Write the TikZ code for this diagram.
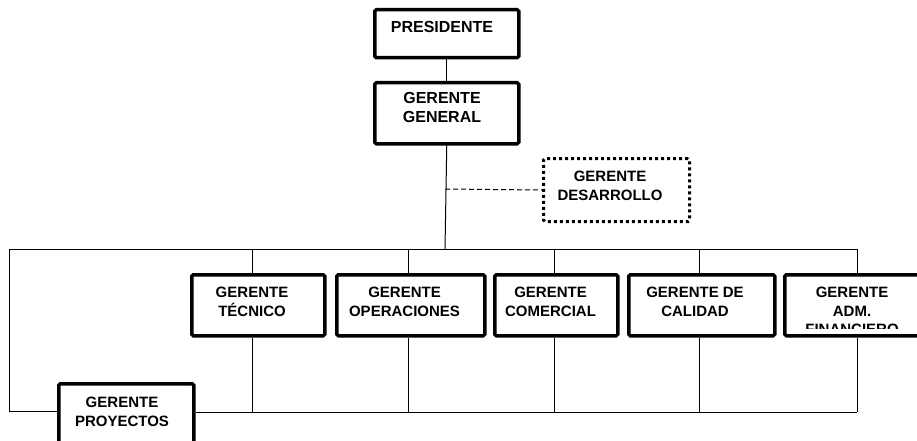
\documentclass[tikz,border=0pt]{standalone}
\usepackage{fontspec}
\setmainfont{Liberation Sans}
\begin{document}
\begin{tikzpicture}[x=1pt,y=-1pt,
  box/.style={draw, line width=3.5pt, rounded corners=1.5pt, fill=white, inner sep=0pt, anchor=north west},
  dotbox/.style={draw, line width=3pt, dash pattern=on 3pt off 3pt, rounded corners=1.5pt, fill=white, inner sep=0pt, anchor=north west},
  lbl/.style={anchor=north, inner sep=0pt, align=center, font=\bfseries\fontsize{15}{18.5}\selectfont},
  biglbl/.style={lbl, font=\bfseries\fontsize{16}{19}\selectfont},
  conn/.style={draw, line width=1pt},
  dconn/.style={draw, line width=1pt, dash pattern=on 5pt off 3pt}]
\useasboundingbox (0,0) rectangle (917,441);
\clip (0,0) rectangle (917,441);
\fill[white] (0,0) rectangle (917,441);

% bus coordinates
\coordinate (bL) at (9,249);
\coordinate (bR) at (857,249);
\coordinate (bGG) at (445,249);
\coordinate (lL) at (9,411);
\coordinate (bB) at (857,412);
\coordinate (dj) at (445,189);
\coordinate (tecU) at (252,249);   \coordinate (tecD) at (252,412);
\coordinate (opeU) at (408,249);   \coordinate (opeD) at (408,412);
\coordinate (comU) at (554,249);   \coordinate (comD) at (554,412);
\coordinate (calU) at (699,249);   \coordinate (calD) at (699,412);
\coordinate (finU) at (857,249);   \coordinate (finD) at (857,412);

% boxes
\node[box, minimum width=144pt, minimum height=48pt] (pres) at (373,8) {};
\node[box, minimum width=144pt, minimum height=61pt] (gg) at (373,81) {};
\node[dotbox, minimum width=146pt, minimum height=63pt] (des) at (542,157) {};
\node[box, minimum width=133pt, minimum height=61pt] (tec) at (190,273) {};
\node[box, minimum width=148pt, minimum height=61pt] (ope) at (335,273) {};
\node[box, minimum width=123pt, minimum height=61pt] (com) at (493,273) {};
\node[box, minimum width=146pt, minimum height=61pt] (cal) at (627,273) {};
\node[box, minimum width=148pt, minimum height=61pt] (fin) at (783,273) {};
\node[box, minimum width=135pt, minimum height=90pt] (proy) at (57,382) {};

% connectors
\draw[conn] (pres) -- (gg);
\draw[conn] (gg.south) -- (bGG);
\draw[dconn] (dj) -- (des.west);
\draw[conn] (bL) -- (bR);
\draw[conn] (bL) -- (lL) -- (lL -| proy.west);
\draw[conn] (bB -| proy.east) -- (bB);
\draw[conn] (tecU) -- (tecU |- tec.north);
\draw[conn] (tecU |- tec.south) -- (tecD);
\draw[conn] (opeU) -- (opeU |- ope.north);
\draw[conn] (opeU |- ope.south) -- (opeD);
\draw[conn] (comU) -- (comU |- com.north);
\draw[conn] (comU |- com.south) -- (comD);
\draw[conn] (calU) -- (calU |- cal.north);
\draw[conn] (calU |- cal.south) -- (calD);
\draw[conn] (finU) -- (finU |- fin.north);
\draw[conn] (finU |- fin.south) -- (finD);

% labels
\node[biglbl] (presT) at (442,21) {PRESIDENTE};
\node[biglbl] (ggT) at (442,92) {GERENTE\\GENERAL};
\node[lbl] (desT) at (610,171) {GERENTE\\DESARROLLO};
\node[lbl] (tecT) at (252,287) {GERENTE\\TÉCNICO};
\node[lbl] (opeT) at (404.5,287) {GERENTE\\OPERACIONES};
\node[lbl] (comT) at (550.5,287) {GERENTE\\COMERCIAL};
\node[lbl] (calT) at (695,287) {GERENTE DE\\CALIDAD};
\begin{scope}
  \clip (786,276) rectangle (917,328);
  \node[lbl] (finT) at (852,287) {GERENTE\\ADM.\\FINANCIERO};
\end{scope}
\node[lbl] (proyT) at (122,397) {GERENTE\\PROYECTOS};
\end{tikzpicture}
\end{document}
